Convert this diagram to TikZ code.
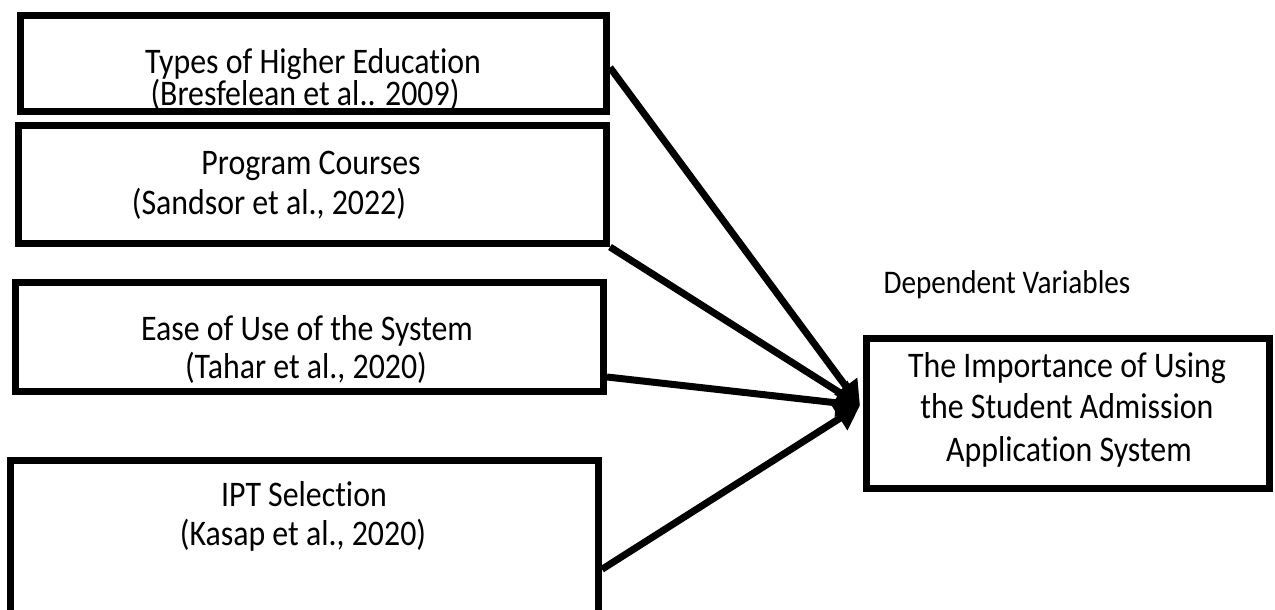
\documentclass[tikz,border=0pt]{standalone}
\usepackage{fontspec}
\setmainfont{Carlito}[FakeStretch=0.885, Ligatures=NoCommon]
\usetikzlibrary{arrows.meta}

\begin{document}
\begin{tikzpicture}[x=0.5pt, y=-0.5pt,
		varbox/.style={draw, line width=3.5pt, inner sep=0pt},
		row/.style={anchor=base, inner sep=0pt, font=\fontsize{18pt}{22pt}\selectfont},
		link/.style={line width=3.5pt, -{Triangle[length=12pt, width=13.5pt]}}]
				\useasboundingbox (0,0) rectangle (1275,610);

				\node[varbox, minimum width=293pt, minimum height=48pt] (types) at (313.5,63.5) {};
				\node[row] (typesA) at (313,74) {Types of Higher Education};
				\node[row] (typesB) at (305,105) {(Bresfelean et al.. 2009)};

				\node[varbox, minimum width=294pt, minimum height=59pt] (prog) at (312.5,184.5) {};
				\node[row] (progA) at (311,175) {Program Courses};
				\node[row] (progB) at (269,214) {(Sandsor et al., 2022)};

				\node[varbox, minimum width=294pt, minimum height=54.5pt] (ease) at (309.5,337) {};
				\node[row] (easeA) at (307,340) {Ease of Use of the System};
				\node[row] (easeB) at (306,378) {(Tahar et al., 2020)};

				\node[varbox, minimum width=294pt, minimum height=78.75pt] (ipt) at (304.5,539.25) {};
				\node[row] (iptA) at (304,506) {IPT Selection};
				\node[row] (iptB) at (303,545) {(Kasap et al., 2020)};

				\node[varbox, minimum width=201.5pt, minimum height=75pt] (target) at (1068,413.5) {};
				\node[row] (targetA) at (1067,377) {The Importance of Using};
				\node[row] (targetB) at (1067,418) {the Student Admission};
				\node[row] (targetC) at (1069,461) {Application System};

				\node[row, font=\fontsize{16.5pt}{20pt}\selectfont] (dep) at (1007,293) {Dependent Variables};

				\coordinate (tip) at ([xshift=-1.5pt, yshift=4pt]target.west);
				\draw[link] ([yshift=-2pt]types.east) -- (tip);
				\draw[link] (prog.south east) -- (tip);
				\draw[link] ([yshift=9pt]ease.south east) -- (tip);
				\draw[link] ([yshift=-15pt]ipt.east) -- (tip);
\end{tikzpicture}
\end{document}
